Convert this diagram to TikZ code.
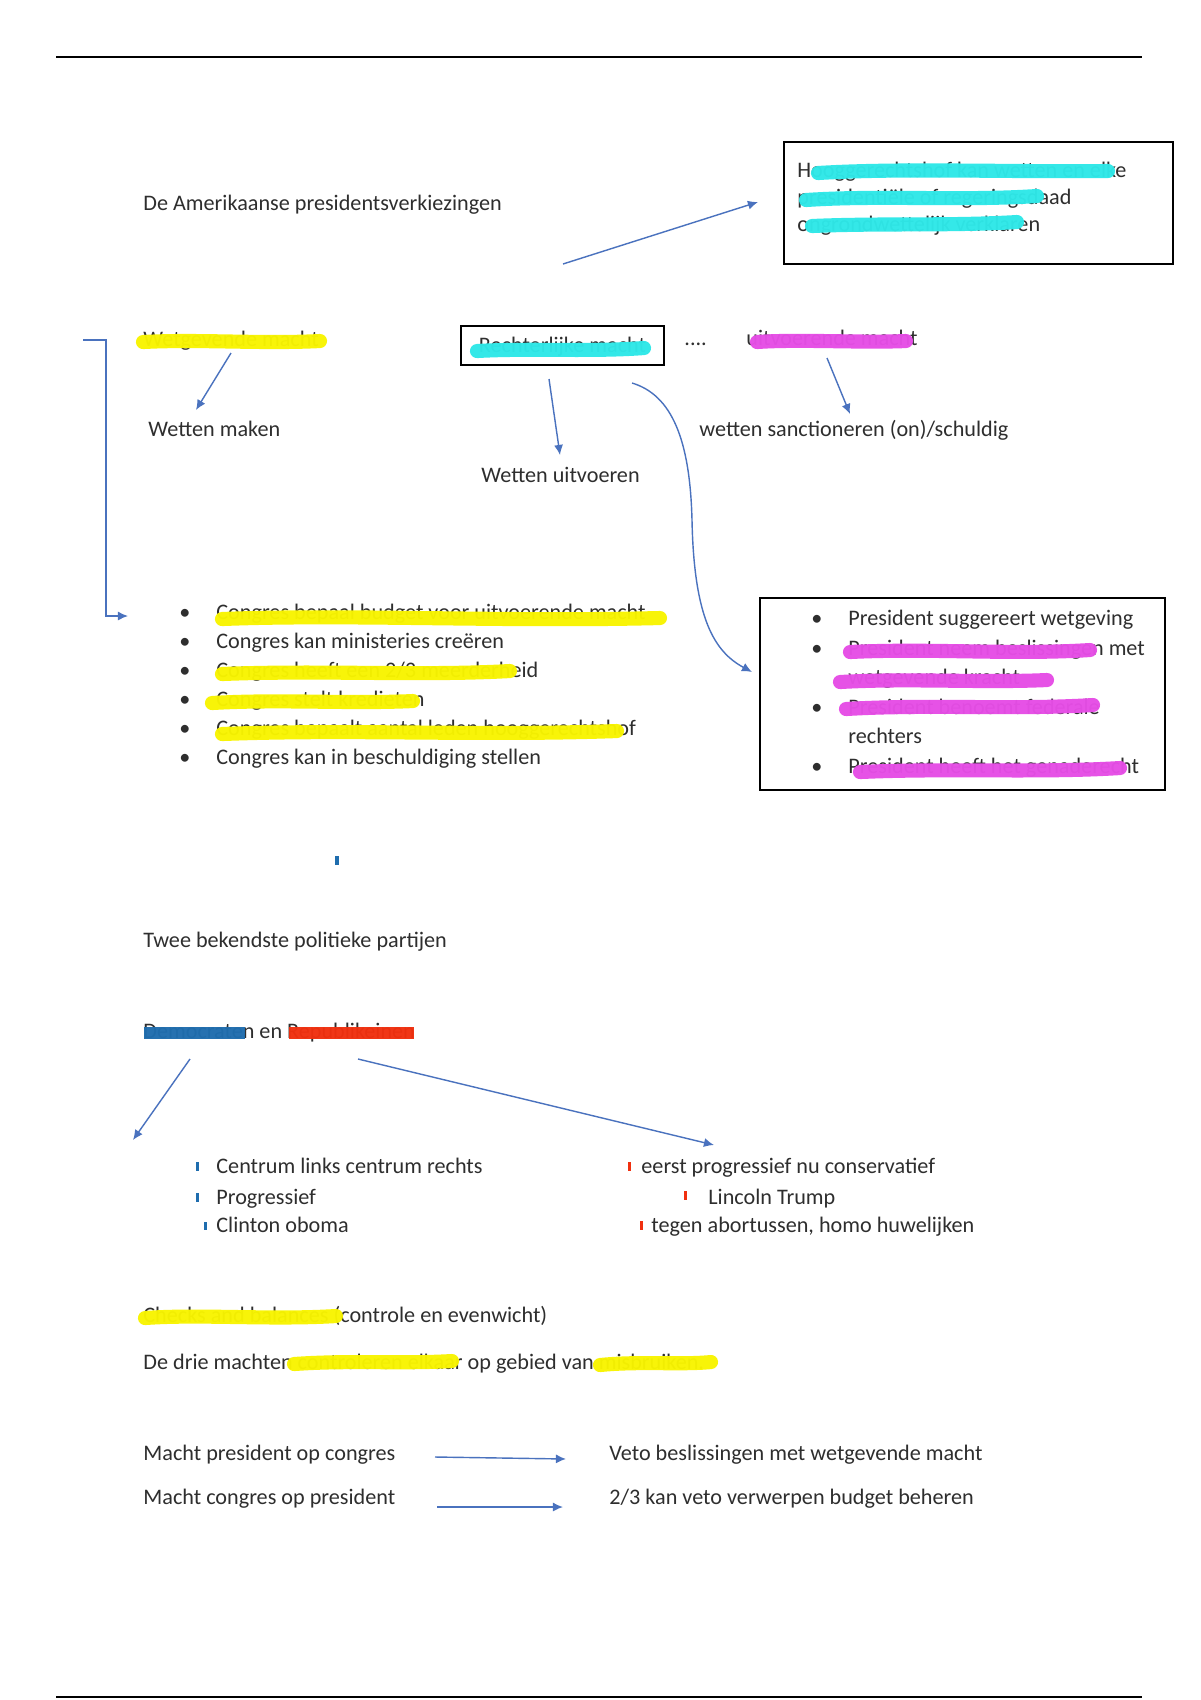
\documentclass[tikz,border=0pt]{standalone}
\usepackage{fontspec}
\setmainfont{Carlito}
\usetikzlibrary{arrows.meta}
\definecolor{txtc}{HTML}{2E2E2E}
\definecolor{arrc}{HTML}{4A72BE}
\definecolor{hly}{HTML}{F8F400}
\definecolor{hlc}{HTML}{2EE8E8}
\definecolor{hlm}{HTML}{E64DE6}
\definecolor{hlb}{HTML}{1F6DAE}
\definecolor{hlr}{HTML}{F0300F}
\begin{document}
\begin{tikzpicture}[x=0.49583pt,y=-0.49583pt,
  txt/.style={anchor=base west, inner sep=0pt, font=\fontsize{11}{13}\selectfont, text=txtc},
  arr/.style={draw=arrc, line width=0.7pt, -{Latex[length=5pt,width=4.5pt]}},
  box/.style={draw=black, line width=1pt, inner sep=0pt},
  hl/.style={line width=7pt, line cap=round, opacity=0.97, yshift=-1pt},
  rule/.style={draw=black, line width=0.8pt}]
\useasboundingbox (0,0) rectangle (1200,1700);
\fill[white] (0,0) rectangle (1200,1700);

% page rules
\coordinate (r1a) at (56,57); \coordinate (r1b) at (1142,57);
\coordinate (r2a) at (56,1697); \coordinate (r2b) at (1142,1697);
\draw[rule] (r1a) -- (r1b);
\draw[rule] (r2a) -- (r2b);

% title
\node[txt] (title) at (143,210) {De Amerikaanse presidentsverkiezingen};

% top-right box
\node[box, minimum width=192.9pt, minimum height=60.5pt] (B1) at (978.5,203) {};
\node[txt] (b1l1) at (797,177) {Hooggerechtshof kan wetten en elke};
\node[txt] (b1l2) at (797,204) {presidentiële of regeringsdaad};
\node[txt] (b1l3) at (797,231) {ongrondwettelijk verklaren};
\draw[hl, hlc] (818,171) .. controls (900,166) and (1000,170) .. (1108,169);
\draw[hl, hlc] (806,198) .. controls (880,193) and (960,199) .. (1037,194);
\draw[hl, hlc] (812,224) .. controls (880,221) and (950,224) .. (1017,220);
\coordinate (a1s) at (563,264); \coordinate (a1e) at (758,202);
\draw[arr] (a1s) -- (a1e);

% three powers
\node[txt] (wet) at (143,346) {Wetgevende macht};
\draw[hl, hly] (143,340) .. controls (200,337) and (260,342) .. (320,339);
\node[box, minimum width=100.7pt, minimum height=19.3pt] (B2) at (562.5,345.5) {};
\node[txt, anchor=base] (rech) at (562.5,352) {Rechterlijke macht};
\draw[hl, hlc] (477,349) .. controls (530,346) and (590,350) .. (644,346);
\node[txt] (dots) at (684,345) {....};
\node[txt] (uitv) at (746,345) {uitvoerende macht};
\draw[hl, hlm] (757,340) .. controls (800,337) and (860,341) .. (906,339);

\node[txt] (wm) at (148,436) {Wetten maken};
\node[txt] (wu) at (481,482) {Wetten uitvoeren};
\node[txt] (ws) at (699,436) {wetten sanctioneren (on)/schuldig};
\coordinate (a2s) at (231,353); \coordinate (a2e) at (196,410);
\coordinate (a3s) at (549,379); \coordinate (a3e) at (560,455);
\coordinate (a4s) at (827,358); \coordinate (a4e) at (850,414);
\draw[arr] (a2s) -- (a2e);
\draw[arr] (a3s) -- (a3e);
\draw[arr] (a4s) -- (a4e);

% curved arrow
\coordinate (cs) at (632,383); \coordinate (cm) at (692,520); \coordinate (ce) at (752,672);
\draw[arr] (cs) .. controls (672,395) and (690,440) .. (cm) .. controls (694,620) and (715,652) .. (ce);

% elbow connector
\coordinate (e1) at (83,340); \coordinate (e2) at (106,340);
\coordinate (e3) at (106,616); \coordinate (e4) at (128,616);
\draw[arr] (e1) -- (e2) -- (e3) -- (e4);

% left list
\foreach \y [count=\i] in {619.5,648.5,677.5,706.5,735.5,764.5} {
  \node[txt] (lb\i) at (179,\y) {•};
}
\node[txt] (l1) at (216,619.5) {Congres bepaal budget voor uitvoerende macht};
\node[txt] (l2) at (216,648.5) {Congres kan ministeries creëren};
\node[txt] (l3) at (216,677.5) {Congres heeft een 2/3 meerderheid};
\node[txt] (l4) at (216,706.5) {Congres stelt kredieten};
\node[txt] (l5) at (216,735.5) {Congres bepaalt aantal leden hooggerechtshof};
\node[txt] (l6) at (216,764.5) {Congres kan in beschuldiging stellen};
\draw[hl, hly] (222,617) .. controls (350,612) and (500,620) .. (660,616);
\draw[hl, hly] (222,672) .. controls (320,668) and (420,674) .. (510,669);
\draw[hl, hly] (212,701) .. controls (280,697) and (350,702) .. (413,699);
\draw[hl, hly] (222,732) .. controls (350,727) and (480,734) .. (617,729);

% right box
\node[box, minimum width=200.8pt, minimum height=95.2pt] (B3) at (962.5,694) {};
\foreach \y [count=\i] in {625,655,714,773} {
  \node[txt] (rb\i) at (811,\y) {•};
}
\node[txt] (p1) at (848,625) {President suggereert wetgeving};
\node[txt] (p2) at (848,655) {President neem beslissingen met};
\node[txt] (p2b) at (848,684.5) {wetgevende kracht};
\node[txt] (p3) at (848,714) {President benoemt federale};
\node[txt] (p3b) at (848,743.5) {rechters};
\node[txt] (p4) at (848,773) {President heeft het genaderecht};
\draw[hl, hlm] (850,650) .. controls (930,646) and (1010,653) .. (1090,648);
\draw[hl, hlm] (840,680) .. controls (910,676) and (980,681) .. (1047,678);
\draw[hl, hlm] (846,707) .. controls (930,702) and (1010,708) .. (1093,703);
\draw[hl, hlm] (860,770) .. controls (950,766) and (1040,771) .. (1120,766);

% small mark
\fill[hlb] (335,856) rectangle (339,865);

% parties
\node[txt] (twee) at (143,947) {Twee bekendste politieke partijen};
\node[txt] (dem) at (143,1038) {Democraten en Republikeinen};
\draw[line width=6pt, hlb, opacity=0.97] (144,1033) -- (245,1033);
\draw[line width=6pt, hlr, opacity=0.97] (289,1033) -- (414,1033);
\coordinate (a5s) at (190,1059); \coordinate (a5e) at (133,1140);
\coordinate (a6s) at (358,1059); \coordinate (a6e) at (714,1145);
\draw[arr] (a5s) -- (a5e);
\draw[arr] (a6s) -- (a6e);

\fill[hlb] (196,1162) rectangle (199,1171);
\fill[hlb] (196,1193) rectangle (199,1202);
\fill[hlb] (204,1222) rectangle (207,1230);
\node[txt] (d1) at (216,1173) {Centrum links centrum rechts};
\node[txt] (d2) at (216,1204) {Progressief};
\node[txt] (d3) at (216,1232) {Clinton oboma};

\fill[hlr] (628,1162) rectangle (631,1171);
\fill[hlr] (684,1191) rectangle (687,1200);
\fill[hlr] (640,1221) rectangle (643,1230);
\node[txt] (r1) at (641,1173) {eerst progressief nu conservatief};
\node[txt] (r2) at (708,1204) {Lincoln Trump};
\node[txt] (r3) at (651,1232) {tegen abortussen, homo huwelijken};

% checks and balances
\node[txt] (cb) at (143,1322) {Checks and balances (controle en evenwicht)};
\draw[hl, hly] (145,1316) .. controls (200,1312) and (270,1318) .. (336,1314);
\node[txt] (dm) at (143,1369) {De drie machten controleren elkaar op gebied van misbruiken.};
\draw[hl, hly] (294,1362) .. controls (350,1358) and (400,1362) .. (452,1359);
\draw[hl, hly] (600,1363) .. controls (640,1359) and (680,1363) .. (711,1360);

% powers
\node[txt] (mp) at (143,1460) {Macht president op congres};
\node[txt] (vb) at (609,1460) {Veto beslissingen met wetgevende macht};
\node[txt] (mc) at (143,1504) {Macht congres op president};
\node[txt] (vv) at (609,1504) {2/3 kan veto verwerpen budget beheren};
\coordinate (a7s) at (435,1457); \coordinate (a7e) at (566,1459);
\coordinate (a8s) at (437,1507); \coordinate (a8e) at (563,1507);
\draw[arr] (a7s) -- (a7e);
\draw[arr] (a8s) -- (a8e);
\end{tikzpicture}
\end{document}
